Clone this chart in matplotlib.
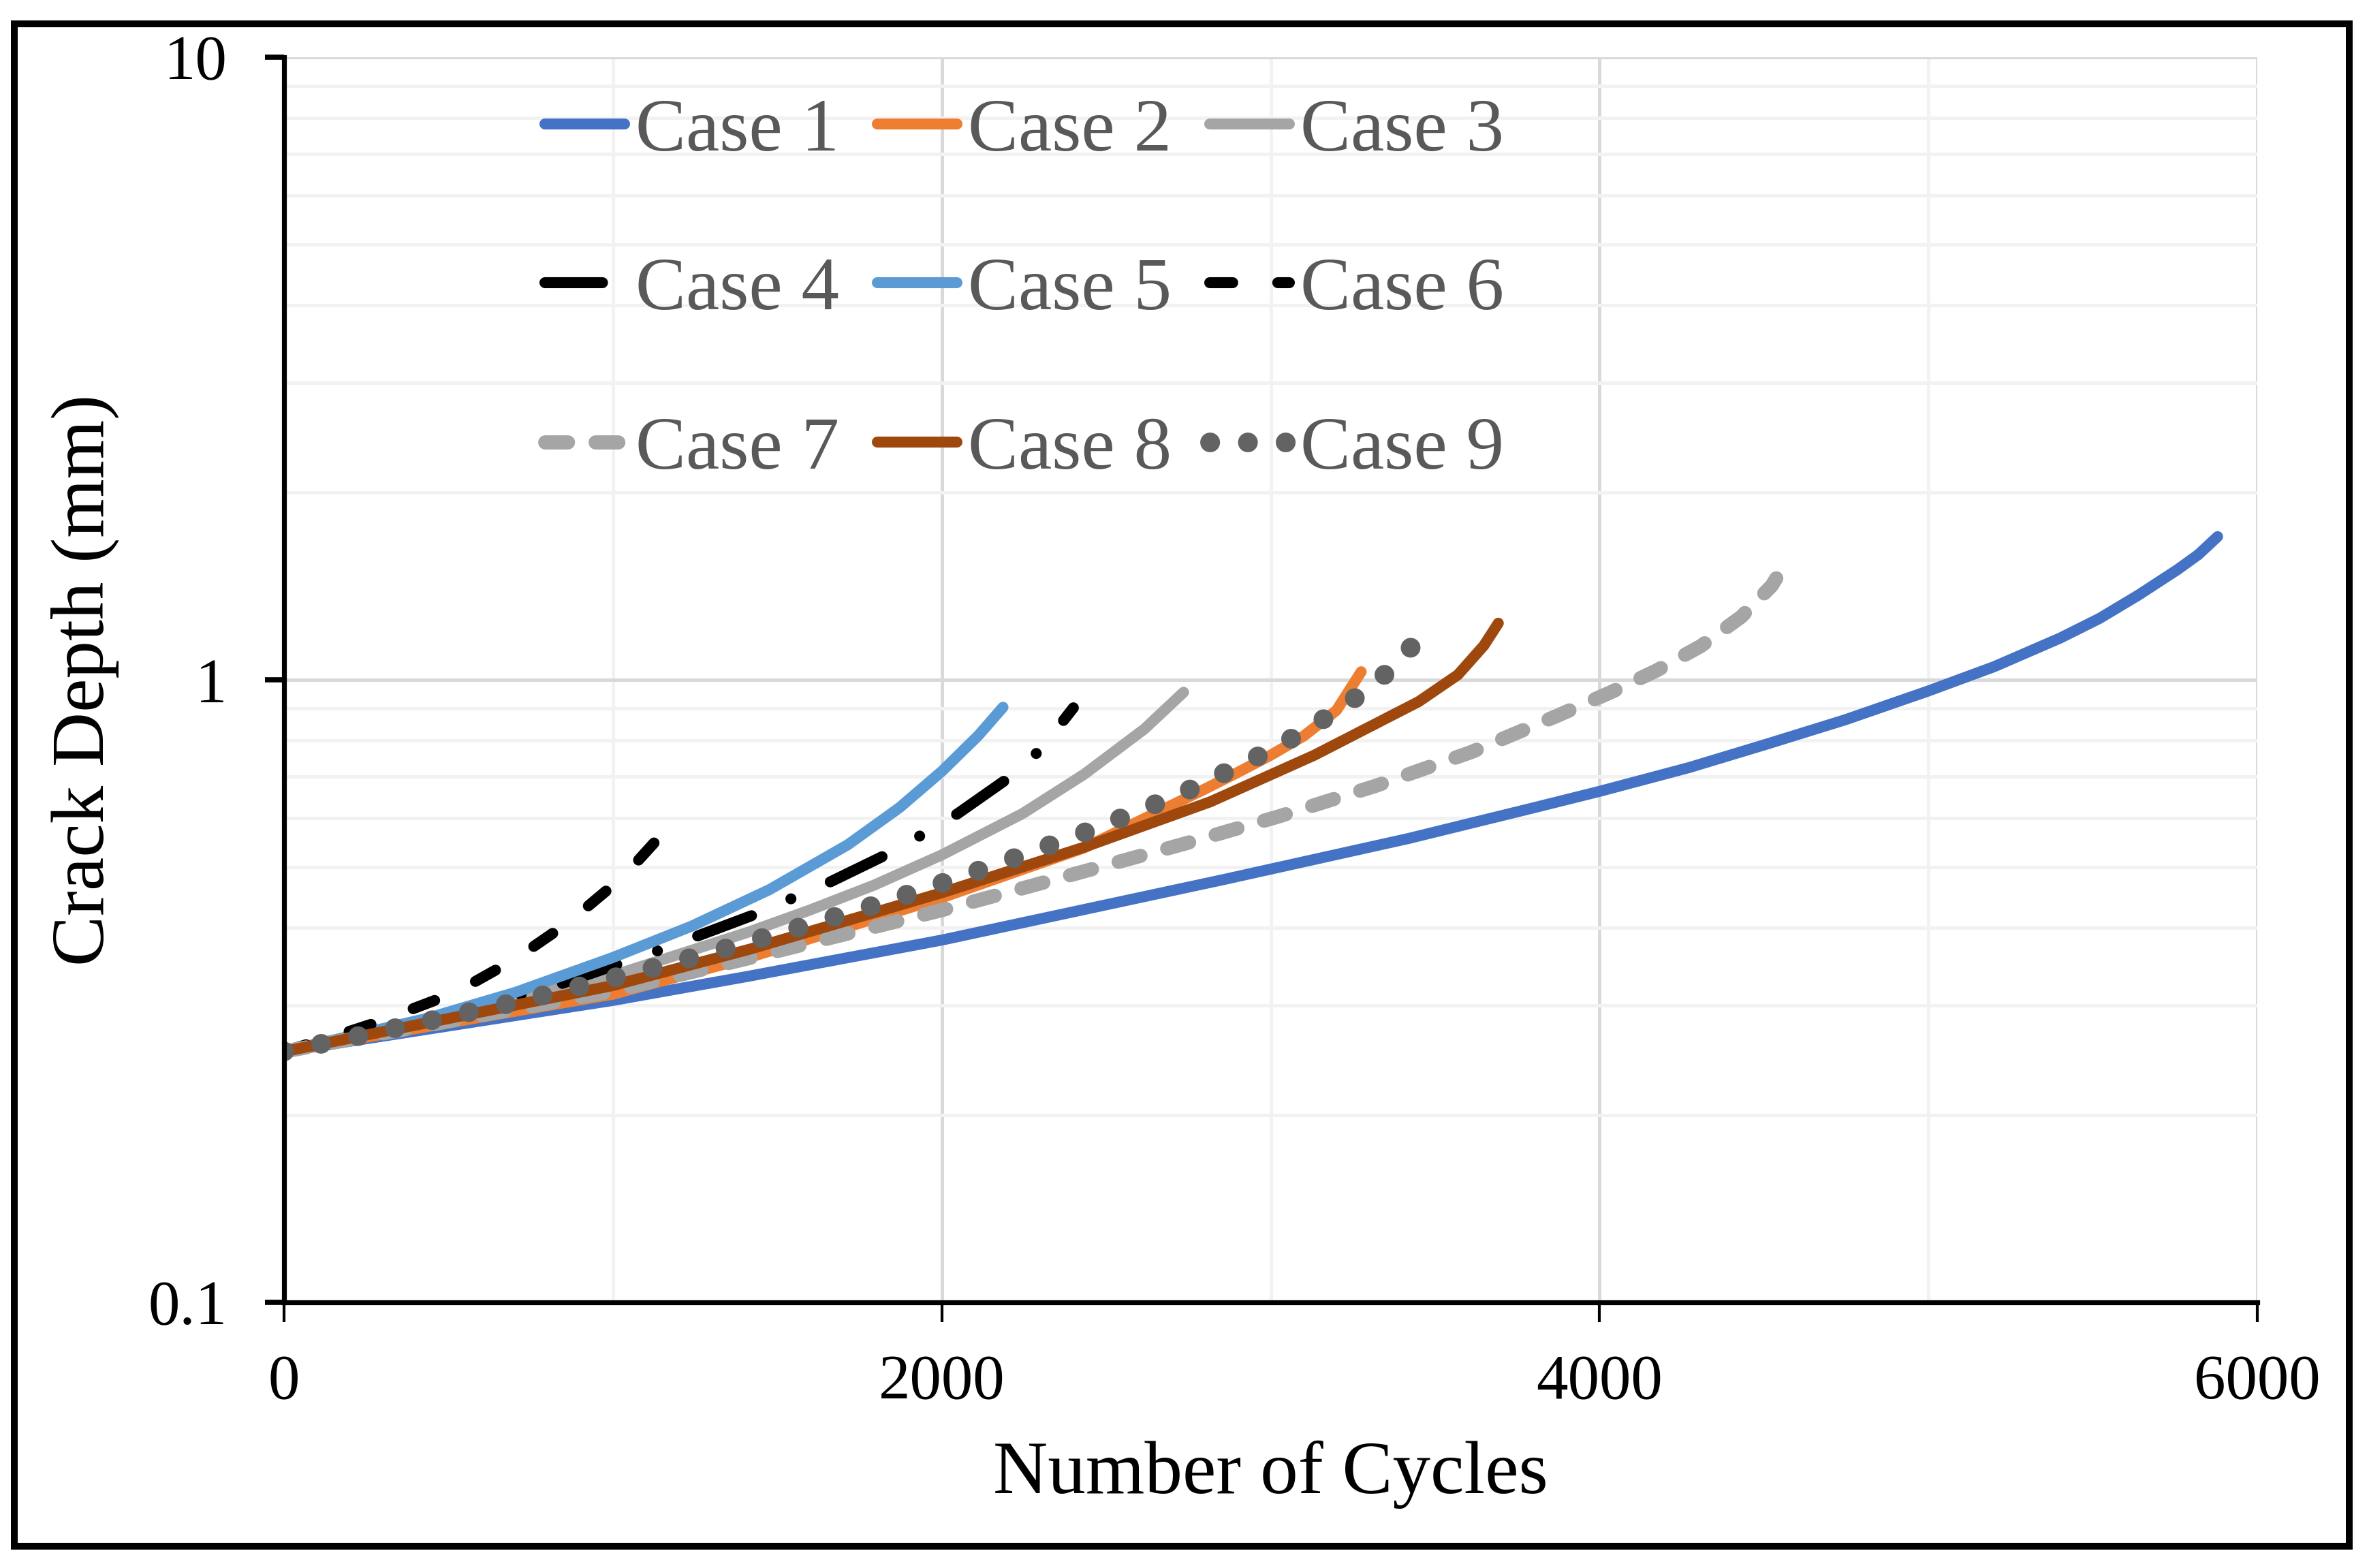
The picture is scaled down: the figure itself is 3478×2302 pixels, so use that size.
import matplotlib.pyplot as plt
from matplotlib.patches import Rectangle

plt.rcParams['font.family'] = ['Liberation Serif', 'DejaVu Serif']

# crack depth (mm) vs number of cycles
case1_x = [0, 1000, 1414, 2000, 2864, 3418, 3796, 4001, 4272, 4510, 4748, 4999, 5200, 5400, 5520, 5638, 5757,
           5820, 5879]
case1_y = [0.2529, 0.3055, 0.3342, 0.3819, 0.4786, 0.5559, 0.6223, 0.6622, 0.7228, 0.7889, 0.8630, 0.9594,
           1.050, 1.1668, 1.255, 1.3677, 1.5031, 1.5885, 1.6982]

case2_x = [0, 1000, 1414, 2000, 2432, 2790, 2895, 3000, 3101, 3200, 3275]
case2_y = [0.2529, 0.3126, 0.3581, 0.4467, 0.5370, 0.6637, 0.7079, 0.7568, 0.8128, 0.8933, 1.0304]

case3_x = [0, 1000, 1414, 1598, 1793, 2001, 2245, 2432, 2616, 2735]
case3_y = [0.2529, 0.3350, 0.3936, 0.4266, 0.4677, 0.5236, 0.6095, 0.7047, 0.8337, 0.9550]

case4_x = [0, 450, 844, 1052, 1154, 1260, 1451, 1557, 1663, 1850, 1949, 2048, 2218, 2302, 2400]
case4_y = [0.2529, 0.2851, 0.3251, 0.3548, 0.3698, 0.3882, 0.4236, 0.4487, 0.4742, 0.5297, 0.5675, 0.6095,
           0.7047, 0.7745, 0.9016]

case5_x = [0, 427, 704, 1000, 1238, 1476, 1714, 1872, 2000, 2110, 2186]
case5_y = [0.2529, 0.2851, 0.3148, 0.3581, 0.4018, 0.4603, 0.5433, 0.6237, 0.7129, 0.8128, 0.9036]

case6_x = [0, 185, 284, 473, 570, 654, 746, 826, 912, 982, 1065, 1125]
case6_y = [0.2529, 0.2710, 0.2818, 0.3076, 0.3251, 0.3443, 0.3690, 0.3945, 0.4276, 0.4592, 0.5047, 0.5470]

case7_x = [0, 1000, 1414, 2000, 2258, 2733, 3027, 3321, 3610, 3870, 4034, 4173, 4307, 4430, 4523, 4537]
case7_y = [0.2529, 0.3162, 0.3573, 0.4266, 0.4645, 0.5445, 0.6039, 0.6761, 0.7656, 0.8750, 0.9550, 1.0351,
           1.1324, 1.2618, 1.4158, 1.4555]

case8_x = [0, 1000, 1414, 2000, 2432, 2816, 3133, 3450, 3569, 3648, 3692]
case8_y = [0.2529, 0.3228, 0.3690, 0.4550, 0.5383, 0.6368, 0.7568, 0.9226, 1.0186, 1.1350, 1.2331]

case9_x = [0, 228, 456, 684, 909, 1137, 1361, 1584, 1807, 2029, 2249, 2469, 2685, 2790, 2895, 3000, 3101,
           3200, 3295, 3383, 3458]
case9_y = [0.2529, 0.2679, 0.2844, 0.3020, 0.3228, 0.3462, 0.3724, 0.4027, 0.4365, 0.4767, 0.5236, 0.5774,
           0.6427, 0.6792, 0.7244, 0.7709, 0.8260, 0.8913, 0.9661, 1.0593, 1.1803]

labels = ['Case 1', 'Case 2', 'Case 3', 'Case 4', 'Case 5', 'Case 6', 'Case 7', 'Case 8', 'Case 9']
xs = [case1_x, case2_x, case3_x, case4_x, case5_x, case6_x, case7_x, case8_x, case9_x]
ys = [case1_y, case2_y, case3_y, case4_y, case5_y, case6_y, case7_y, case8_y, case9_y]

colors = ['#4472C4', '#ED7D31', '#A5A5A5', '#000000', '#5B9BD5', '#000000', '#A5A5A5', '#9E480E', '#636363']
widths = [5.8, 5.8, 5.8, 5.8, 5.8, 5.8, 7.5, 5.8, 10.4]
styles = ['-', '-', '-', (0, (5.25, 3.9, 0.01, 3.9)), '-', (0, (2.1, 4.1)), (0, (1.6, 1.95)), '-', (0, (0.01, 1.91))]

fig = plt.figure(figsize=(17.39, 11.51), dpi=200)
ax = fig.add_axes([0.1199, 0.1694, 0.8330, 0.7941])

handles = []
for i in range(9):
    h, = ax.plot(xs[i], ys[i], color=colors[i], lw=widths[i], ls=styles[i],
                 solid_capstyle='round', dash_capstyle='round', solid_joinstyle='round',
                 label=labels[i])
    handles.append(h)

ax.set_yscale('log')
ax.set_xlim(0, 6000)
ax.set_ylim(0.1, 10)

ax.set_xticks([0, 2000, 4000, 6000])
ax.set_xticklabels(['0', '2000', '4000', '6000'])
ax.set_xticks([1000, 3000, 5000], minor=True)
ax.set_yticks([0.1, 1, 10])
ax.set_yticklabels(['0.1', '1', '10'])
ax.set_yticks([k * 0.1 for k in range(2, 10)] + [k * 1.0 for k in range(2, 10)], minor=True)
ax.yaxis.set_minor_formatter(plt.NullFormatter())

ax.tick_params(axis='both', which='major', labelsize=33.5, direction='out', color='black')
ax.tick_params(axis='x', which='major', length=10.5, width=1.5, pad=17)
ax.tick_params(axis='y', which='major', length=10, width=2.75, pad=20)
ax.tick_params(which='minor', length=0)

ax.set_axisbelow(True)
ax.grid(which='major', color='#D9D9D9', lw=1.8)
ax.grid(which='minor', color='#F2F2F2', lw=1.8)

for s in ['top', 'right']:
    ax.spines[s].set_visible(False)
for s in ['left', 'bottom']:
    ax.spines[s].set_linewidth(2.6)
    ax.spines[s].set_color('black')

ax.set_xlabel('Number of Cycles', fontsize=40)
ax.xaxis.set_label_coords(0.5, -0.111)
ax.xaxis.label.set_va('top')
fig.text(125 / 3478, 0.5665, 'Crack Depth (mm)', rotation=90, ha='center', va='center', fontsize=40)

# legend is filled row by row in the original
order = [0, 3, 6, 1, 4, 7, 2, 5, 8]
leg = ax.legend([handles[i] for i in order], [labels[i] for i in order], ncol=3,
                loc='upper left', bbox_to_anchor=(800 / 3478, 1 - 143 / 2302),
                bbox_transform=fig.transFigure, frameon=False, fontsize=40,
                handlelength=1.05, handletextpad=0.15, columnspacing=0.5,
                labelspacing=1.195, borderpad=0, borderaxespad=0)
for t in leg.get_texts():
    t.set_color('#595959')

fig.patches.append(Rectangle((0.006, 0.0139), 0.9857, 0.9711, transform=fig.transFigure,
                             fill=False, lw=3.6, ec='black'))

fig.savefig('out.png', dpi=200)
